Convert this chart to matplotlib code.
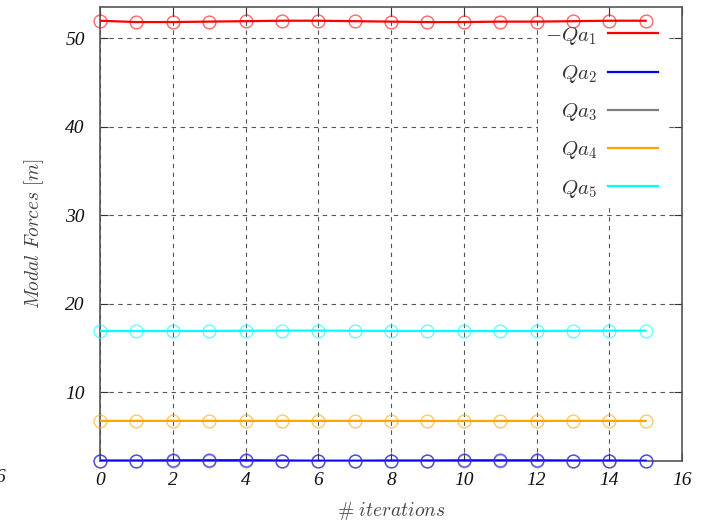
import matplotlib
matplotlib.use("Agg")
import matplotlib.pyplot as plt
import numpy as np

plt.rcParams['mathtext.fontset'] = 'cm'

iterations = list(range(16))
qa1 = [51.95, 51.8, 51.8, 51.85, 51.9, 51.95, 51.95, 51.9, 51.85, 51.8, 51.8, 51.85, 51.85, 51.9, 51.95, 51.95]
qa2 = [2.3, 2.3, 2.32, 2.33, 2.33, 2.3, 2.28, 2.28, 2.3, 2.3, 2.32, 2.32, 2.32, 2.3, 2.3, 2.28]
qa3 = [2.28] * 16
qa4 = [6.78, 6.78, 6.78, 6.78, 6.78, 6.78, 6.78, 6.78, 6.77, 6.77, 6.77, 6.77, 6.78, 6.78, 6.78, 6.78]
qa5 = [16.92, 16.92, 16.93, 16.94, 16.95, 16.97, 16.97, 16.95, 16.94, 16.93, 16.92, 16.92, 16.93, 16.95, 16.96, 16.96]

series = [
    (qa3, 'gray', r'$Qa_3$'),
    (qa1, 'red', r'$-Qa_1$'),
    (qa2, 'blue', r'$Qa_2$'),
    (qa4, 'orange', r'$Qa_4$'),
    (qa5, 'cyan', r'$Qa_5$'),
]
xticks = [0, 2, 4, 6, 8, 10, 12, 14, 16]
yticks = [10, 20, 30, 40, 50]

fig = plt.figure(figsize=(7.08, 5.22), dpi=100)
ax = fig.add_axes([100/708, 1-461/522, 582/708, 454/522])

handles = {}
for vals, col, lab in series:
    ax.plot(iterations, vals, color=col, lw=1.6, zorder=3)
    ax.plot(iterations, vals, ls='none', marker='o', ms=9.2, mfc='none',
            mec=col, mew=1.0, alpha=0.6, zorder=4, clip_on=False)
    h, = ax.plot([], [], color=col, lw=1.6, label=lab)
    handles[lab] = h

ax.set_xlim(0, 16)
ax.set_ylim(2.25, 53.5)
ax.set_xticks(xticks)
ax.set_yticks(yticks)
ax.set_xticklabels([str(v) for v in xticks], family='Liberation Serif', style='italic', fontsize=14)
ax.set_yticklabels([str(v) for v in yticks], family='Liberation Serif', style='italic', fontsize=14)
ax.tick_params(axis='both', direction='in', length=6, top=True, right=True, color='#333333', labelcolor='#111111')
ax.tick_params(axis='x', pad=8)
ax.tick_params(axis='y', pad=11)
ax.grid(True, ls=(0, (4, 4)), color='#555555', lw=0.8, zorder=1)
for s in ax.spines.values():
    s.set_color('#555555')
    s.set_linewidth(1.2)

ax.set_xlabel(r'$\#\ iterations$', fontsize=14, color='#444444', labelpad=8)
ax.set_ylabel(r'$Modal\ Forces\ [m]$', fontsize=14, color='#444444', labelpad=14)

order = [r'$-Qa_1$', r'$Qa_2$', r'$Qa_3$', r'$Qa_4$', r'$Qa_5$']
leg = ax.legend([handles[k] for k in order], order, loc='upper right',
                bbox_to_anchor=(0.99, 1.0), frameon=True, markerfirst=False,
                fontsize=15, labelspacing=0.78, handlelength=2.4, handletextpad=0.55,
                borderpad=0.35, fancybox=False)
leg.get_frame().set_edgecolor('none')
leg.get_frame().set_facecolor('white')
leg.get_frame().set_alpha(1.0)
leg.set_zorder(2.5)
for t in leg.get_texts():
    t.set_color('#333333')

fig.text(0.0, 1-478/522, '6', family='Liberation Serif', style='italic', fontsize=14,
         ha='center', va='center', color='#222222')

fig.savefig('out.png', dpi=100)
